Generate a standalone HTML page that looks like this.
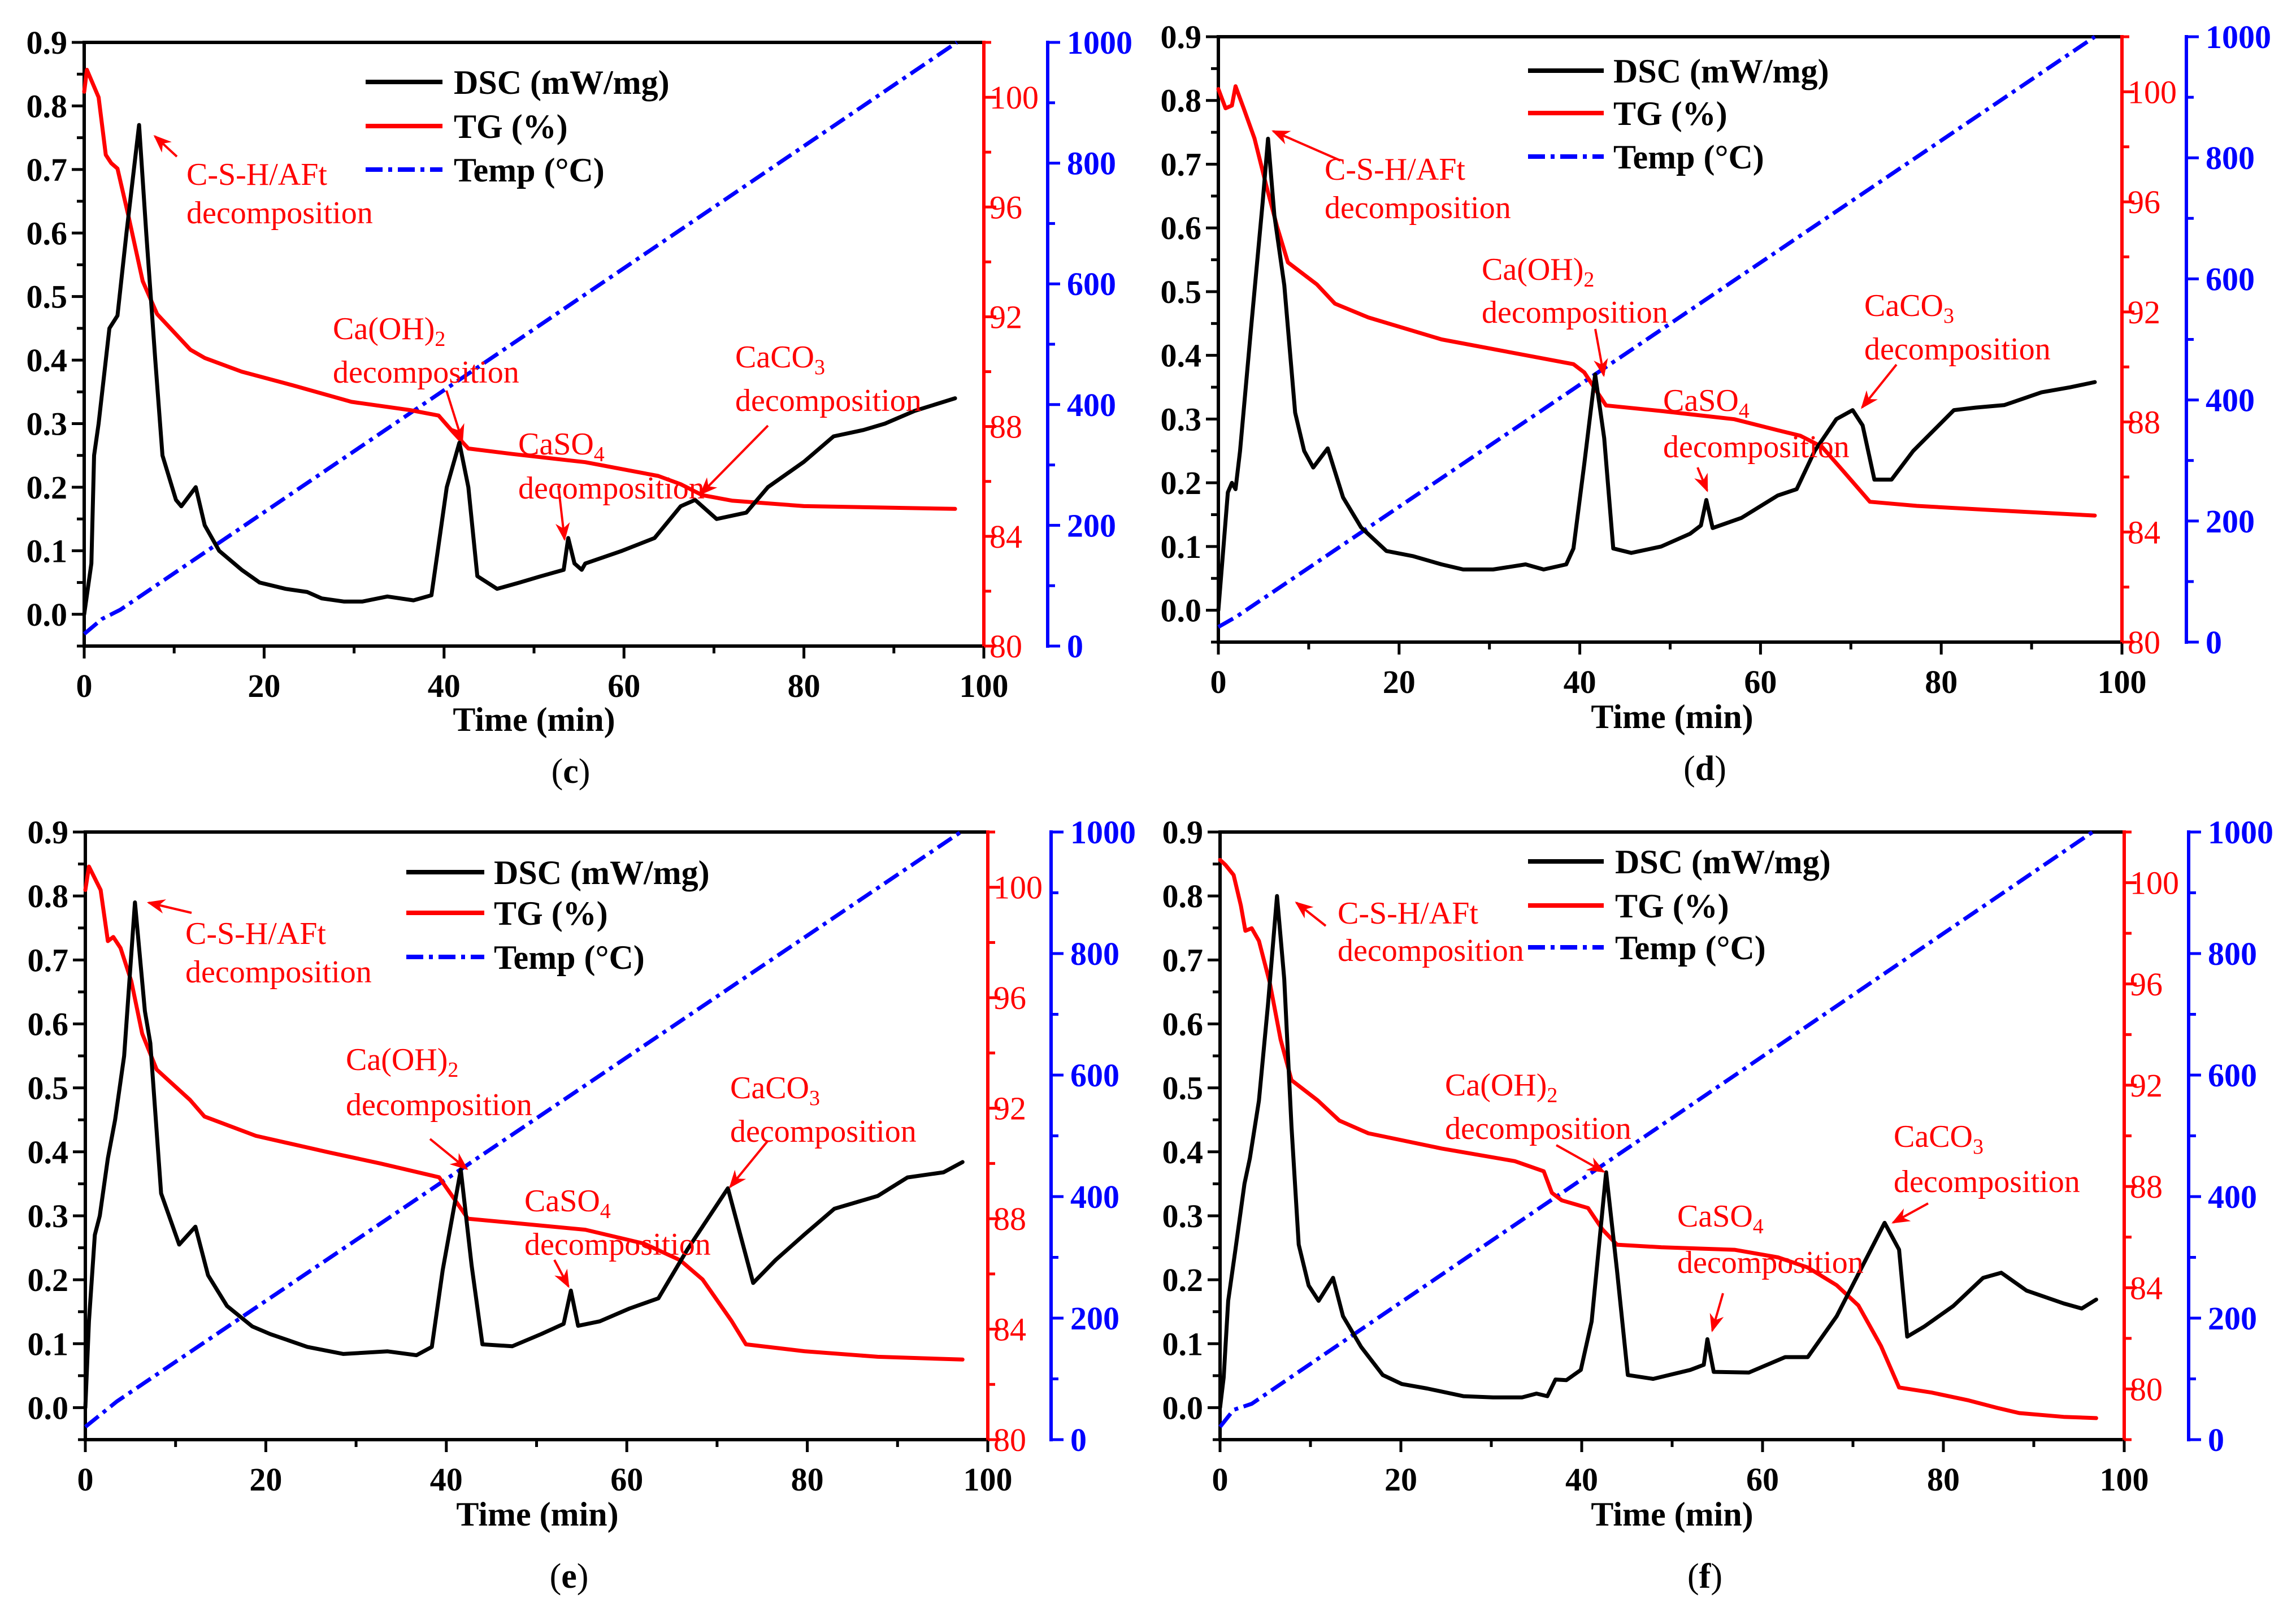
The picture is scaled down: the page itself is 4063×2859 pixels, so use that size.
<!DOCTYPE html>
<html><head><meta charset="utf-8"><title>DSC-TG panels</title>
<style>
html,body{margin:0;padding:0;background:#fff;}
svg{display:block;}
text{font-family:"Liberation Serif",serif;}
</style></head>
<body>
<svg id="fig" width="4063" height="2859" viewBox="0 0 4063 2859" xmlns="http://www.w3.org/2000/svg">
<rect x="0" y="0" width="4063" height="2859" fill="#fff"/>
</svg>
<script>
// ---- Panel (c) data ----
const cTime = [0,0.8,1.1,1.6,2.8,3.7,4.7,6.1,6.9,7.9,8.7,10.2,10.8,12.4,13.4,15.0,17.5,19.5,22.4,24.8,26.4,28.9,30.9,33.7,36.6,38.6,39.3,40.3,41.7,42.7,43.7,45.9,48.4,50.8,53.3,53.8,54.5,55.3,55.7,59.8,63.4,66.3,67.9,70.3,73.6,76.0,80.0,83.3,86.6,89.0,92.3,96.8];
const cDSC = [0,0.08,0.25,0.3,0.45,0.47,0.6,0.77,0.6,0.4,0.25,0.18,0.17,0.2,0.14,0.1,0.07,0.05,0.04,0.035,0.025,0.02,0.02,0.028,0.022,0.03,0.1,0.2,0.27,0.2,0.06,0.04,0.05,0.06,0.07,0.12,0.08,0.07,0.08,0.1,0.12,0.17,0.18,0.15,0.16,0.2,0.24,0.28,0.29,0.3,0.32,0.34];
const cTGTime = [0,0.3,1.6,2.4,3.0,3.7,4.9,6.5,8.1,11.8,13.4,17.5,23.2,29.7,36.2,39.4,41.0,42.7,47.6,55.7,63.8,66.3,68.7,72.0,80.0,96.8];
const cTG = [100.2,101.0,100.0,97.9,97.6,97.4,95.7,93.3,92.1,90.8,90.5,90.0,89.5,88.9,88.6,88.4,87.8,87.2,87.0,86.7,86.2,85.9,85.5,85.3,85.1,85.0];
const cTempTime = [0,2,4,97];
const cTemp = [20,45,60,1000];

// ---- Panel (d) data ----
const dTime = [0,0.4,1.05,1.5,1.9,2.4,3.6,4.9,5.5,6.2,7.3,8.5,9.5,10.5,12.1,13.8,15.8,18.6,21.5,24.7,27.1,30.4,34,36,38.5,39.3,40.5,41.7,42.7,43.7,45.7,49,52.2,53.4,54,54.7,57.9,61.9,64,66,68.4,70.2,71.3,72.6,74.5,76.9,81.4,83.8,87,91.1,94.3,97];
const dDSC = [0,0.07,0.185,0.2,0.19,0.25,0.44,0.64,0.74,0.62,0.51,0.31,0.25,0.224,0.254,0.177,0.13,0.093,0.085,0.072,0.064,0.064,0.072,0.064,0.072,0.097,0.23,0.37,0.27,0.097,0.09,0.1,0.12,0.133,0.173,0.129,0.145,0.18,0.19,0.25,0.3,0.314,0.29,0.205,0.205,0.25,0.314,0.318,0.322,0.342,0.35,0.358];
const dTGTime = [0,0.8,1.5,1.9,2.8,4,5.3,6.5,7.7,10.9,12.9,16.6,24.7,32.8,39.3,40.5,42.1,42.9,49,57.1,61.9,64.4,66.8,69.2,72.1,77.3,85.4,97];
const dTG = [100.1,99.4,99.5,100.2,99.4,98.3,96.6,95.1,93.8,93.0,92.3,91.8,91.0,90.5,90.1,89.8,89.0,88.6,88.4,88.1,87.7,87.5,87.1,86.2,85.1,84.95,84.8,84.6];
const dTempTime = [0,2,97];
const dTemp = [25,42,1000];

// ---- Panel (e) data ----
const eTime = [0,0.4,1.05,1.6,2.5,3.3,4.3,5.5,6.6,7.2,8.4,10.4,12.2,13.6,15.7,18.5,20.5,24.6,28.6,33.5,36.7,38.4,39.6,41.6,42.8,44,47.3,50.5,53,53.8,54.6,57,60.3,63.5,66.7,71.2,74,76.5,79.7,83,87.8,91.1,95.1,97.2];
const eDSC = [0,0.135,0.27,0.3,0.39,0.45,0.55,0.79,0.62,0.57,0.335,0.255,0.283,0.207,0.159,0.127,0.115,0.095,0.084,0.088,0.082,0.095,0.215,0.372,0.223,0.099,0.096,0.115,0.131,0.183,0.128,0.135,0.155,0.171,0.247,0.343,0.195,0.231,0.271,0.311,0.331,0.36,0.368,0.384];
const eTGTime = [0,0.4,1.7,2.5,3.1,3.9,5.1,6.3,7.9,11.6,13.2,18.9,27,32.7,39.2,40.8,42.4,47.3,55.4,61.9,65.9,68.4,71.6,73.2,79.7,87.8,97.2];
const eTG = [99.9,100.75,99.9,98.05,98.2,97.8,96.6,94.7,93.4,92.3,91.7,91.0,90.4,90.0,89.5,88.75,88.0,87.85,87.6,87.1,86.5,85.8,84.3,83.45,83.2,83.0,82.9];
const eTempTime = [0,3.5,97];
const eTemp = [21,63,1000];

// ---- Panel (f) data ----
const fTime = [0,0.4,0.9,1.7,2.7,3.3,4.3,5.3,6.3,7.1,7.9,8.7,9.8,10.9,12.5,13.6,15.6,18,20.1,22.9,26.9,30.2,33.4,35,36.2,37.1,38.3,39.9,41.1,42.7,43.9,45.1,47.9,52,53.5,53.9,54.6,58.5,62.5,65,68.2,71.4,73.5,75.1,76,77.9,81.1,84.4,86.4,89.2,93.3,95.3,96.9];
const fDSC = [0,0.047,0.167,0.247,0.35,0.39,0.48,0.63,0.8,0.67,0.44,0.255,0.191,0.167,0.203,0.143,0.095,0.051,0.037,0.03,0.018,0.016,0.016,0.022,0.018,0.044,0.043,0.059,0.135,0.368,0.215,0.051,0.045,0.059,0.067,0.107,0.056,0.055,0.079,0.079,0.143,0.231,0.289,0.247,0.111,0.127,0.159,0.203,0.211,0.183,0.163,0.155,0.169];
const fTGTime = [0,0.6,1.5,2.3,2.8,3.5,4.3,5.5,6.7,7.9,10.8,13.2,16.4,24.5,32.6,35.8,36.7,37.8,40.7,42.3,43.9,48.8,56.9,61.7,65,68.2,70.6,73.1,75.1,78.7,82.8,86,88.4,93.3,96.9];
const fTG = [100.9,100.7,100.3,99.1,98.1,98.2,97.7,96.05,93.8,92.2,91.4,90.6,90.1,89.5,89.0,88.6,87.75,87.45,87.15,86.3,85.7,85.6,85.5,85.2,84.8,84.1,83.3,81.7,80.06,79.86,79.55,79.25,79.05,78.9,78.85];
const fTempTime = [0,1.5,3.5,96.5];
const fTemp = [21,49,59,1000];

// ---- Axis tick arrays ----
const xTicks = [0,20,40,60,80,100];
const dscTicks = [0.0,0.1,0.2,0.3,0.4,0.5,0.6,0.7,0.8,0.9];
const tgTicks = [80,84,88,92,96,100];
const tempTicks = [0,200,400,600,800,1000];
const legendLabels = ["DSC (mW/mg)","TG (%)","Temp (°C)"];

const NS = "http://www.w3.org/2000/svg";
const svg = document.getElementById('fig');
function mk(tag, attrs, parent){
  const e = document.createElementNS(NS, tag);
  for (const k in attrs) e.setAttribute(k, attrs[k]);
  (parent||svg).appendChild(e);
  return e;
}

const panels = [
 {id:'c', L:149,R:1741,T:75,B:1143, blue:1854, tgMin:80, tgT:cTGTime, tg:cTG, t:cTime, dsc:cDSC, tt:cTempTime, temp:cTemp,
  timeX:945, timeY:1293, labX:1010, labY:1385, leg:{x1:647,x2:783,ys:[145,223,300],tx:803},
  ann:[
   {x:330,y:[327,395],lines:['C-S-H/AFt','decomposition'],a:[313,277,274,241]},
   {x:589,y:[600,677],lines:['Ca(OH)|2','decomposition'],a:[790,691,818,780]},
   {x:917,y:[804,882],lines:['CaSO|4','decomposition'],a:[988,859,999,954]},
   {x:1301,y:[650,727],lines:['CaCO|3','decomposition'],a:[1359,753,1240,874]}]},
 {id:'d', L:2156,R:3755,T:65,B:1136, blue:3869, tgMin:80, tgT:dTGTime, tg:dTG, t:dTime, dsc:dDSC, tt:dTempTime, temp:dTemp,
  timeX:2959, timeY:1288, labX:3017, labY:1380, leg:{x1:2704,x2:2838,ys:[125,200,277],tx:2855},
  ann:[
   {x:2344,y:[318,386],lines:['C-S-H/AFt','decomposition'],a:[2372,284,2253,232]},
   {x:2622,y:[495,571],lines:['Ca(OH)|2','decomposition'],a:[2823,582,2838,664]},
   {x:2943,y:[727,809],lines:['CaSO|4','decomposition'],a:[3004,827,3021,868]},
   {x:3299,y:[559,636],lines:['CaCO|3','decomposition'],a:[3356,645,3295,721]}]},
 {id:'e', L:151,R:1748,T:1472,B:2547, blue:1860, tgMin:80, tgT:eTGTime, tg:eTG, t:eTime, dsc:eDSC, tt:eTempTime, temp:eTemp,
  timeX:951, timeY:2699, labX:1007, labY:2809, leg:{x1:719,x2:857,ys:[1543,1615,1693],tx:874},
  ann:[
   {x:328,y:[1670,1738],lines:['C-S-H/AFt','decomposition'],a:[339,1615,263,1597]},
   {x:612,y:[1893,1973],lines:['Ca(OH)|2','decomposition'],a:[761,2015,826,2068]},
   {x:928,y:[2143,2220],lines:['CaSO|4','decomposition'],a:[981,2229,1006,2276]},
   {x:1292,y:[1943,2020],lines:['CaCO|3','decomposition'],a:[1359,2018,1292,2100]}]},
 {id:'f', L:2159,R:3759,T:1472,B:2547, blue:3873, tgMin:78, tgT:fTGTime, tg:fTG, t:fTime, dsc:fDSC, tt:fTempTime, temp:fTemp,
  timeX:2959, timeY:2699, labX:3017, labY:2809, leg:{x1:2704,x2:2838,ys:[1524,1602,1676],tx:2858},
  ann:[
   {x:2367,y:[1634,1700],lines:['C-S-H/AFt','decomposition'],a:[2346,1638,2294,1597]},
   {x:2557,y:[1938,2015],lines:['Ca(OH)|2','decomposition'],a:[2754,2026,2838,2073]},
   {x:2968,y:[2170,2252],lines:['CaSO|4','decomposition'],a:[3049,2288,3030,2354]},
   {x:3351,y:[2029,2109],lines:['CaCO|3','decomposition'],a:[3412,2129,3350,2163]}]}
];

const defs = mk('defs',{});
const mrk = mk('marker',{id:'arrowhead',markerWidth:'32',markerHeight:'26',refX:'9',refY:'4',orient:'auto',markerUnits:'userSpaceOnUse',viewBox:'0 0 10 8'},defs);
mk('path',{d:'M0,0 L10,4 L0,8 L3,4 Z',fill:'#ff0000'},mrk);

const DASH = '30 10 7 10';

panels.forEach(p=>{
  const g = mk('g',{});
  
  
  const xs = v => p.L + (v/100)*(p.R-p.L);
  const ys = v => p.B - (v+0.05)/0.95*(p.B-p.T);
  const ts = v => p.B - (v-p.tgMin)/(102-p.tgMin)*(p.B-p.T);
  const ks = v => p.B - v/1000*(p.B-p.T);

  const fr = mk('path',{d:`M${p.L},${p.B} L${p.L},${p.T} L${p.R},${p.T}`,fill:'none',stroke:'#000','stroke-width':6},g);
   
  const xa = mk('line',{x1:p.L-3,y1:p.B,x2:p.R,y2:p.B,stroke:'#000','stroke-width':6},g);
   
  const ra = mk('line',{x1:p.R,y1:p.T-3,x2:p.R,y2:p.B+3,stroke:'#ff0000','stroke-width':6},g);
   
  const ba = mk('line',{x1:p.blue,y1:p.T-3,x2:p.blue,y2:p.B+3,stroke:'#0000ff','stroke-width':6},g);
   

  for(let v=0; v<=100; v+=10){
    const maj = v%20===0;
    mk('line',{x1:xs(v),y1:p.B,x2:xs(v),y2:p.B+(maj?22:13),stroke:'#000','stroke-width':5},g);
  }
  xTicks.forEach(v=>{
    const t = mk('text',{x:xs(v),y:p.B+90,'font-size':58,'font-weight':'bold','text-anchor':'middle',fill:'#000'},g);
    t.textContent = v;
     
  });
  for(let i=0;i<=19;i++){
    const v = -0.05 + i*0.05;
    const maj = i%2===1;
    mk('line',{x1:p.L,y1:ys(v),x2:p.L-(maj?22:13),y2:ys(v),stroke:'#000','stroke-width':5},g);
  }
  dscTicks.forEach(v=>{
    const t = mk('text',{x:p.L-30,y:ys(v)+20,'font-size':58,'font-weight':'bold','text-anchor':'end',fill:'#000'},g);
    t.textContent = v.toFixed(1);
     
  });
  for(let v=p.tgMin; v<=102; v+=2){
    const maj = (v-80)%4===0;
    mk('line',{x1:p.R,y1:ts(v),x2:p.R+(maj?22:13),y2:ts(v),stroke:'#ff0000','stroke-width':5},g);
  }
  tgTicks.forEach(v=>{
    const t = mk('text',{x:p.R+10,y:ts(v)+20,'font-size':58,'text-anchor':'start',fill:'#ff0000'},g);
    t.textContent = v;
     
  });
  for(let v=0; v<=1000; v+=100){
    const maj = v%200===0;
    mk('line',{x1:p.blue,y1:ks(v),x2:p.blue+(maj?22:13),y2:ks(v),stroke:'#0000ff','stroke-width':5},g);
  }
  tempTicks.forEach(v=>{
    const t = mk('text',{x:p.blue+34,y:ks(v)+20,'font-size':58,'font-weight':'bold','text-anchor':'start',fill:'#0000ff'},g);
    t.textContent = v;
     
  });

  const pts = (xa,ya,f)=>xa.map((x,i)=>xs(x).toFixed(1)+','+f(ya[i]).toFixed(1)).join(' ');
  const tl = mk('polyline',{points:pts(p.tt,p.temp,ks),fill:'none',stroke:'#0000ff','stroke-width':7,'stroke-dasharray':DASH},g);
   
  const tgl = mk('polyline',{points:pts(p.tgT,p.tg,ts),fill:'none',stroke:'#ff0000','stroke-width':7,'stroke-linejoin':'round','stroke-linecap':'round'},g);
   
  const dl = mk('polyline',{points:pts(p.t,p.dsc,ys),fill:'none',stroke:'#000','stroke-width':7,'stroke-linejoin':'round','stroke-linecap':'round'},g);
   

  const L = p.leg;
  const styles = [{s:'#000',d:null},{s:'#ff0000',d:null},{s:'#0000ff',d:DASH}];
  legendLabels.forEach((lab,i)=>{
    const ln = mk('line',{x1:L.x1,y1:L.ys[i],x2:L.x2,y2:L.ys[i],stroke:styles[i].s,'stroke-width':8},g);
    if(styles[i].d) ln.setAttribute('stroke-dasharray',styles[i].d);
     
    const t = mk('text',{x:L.tx,y:L.ys[i]+21,'font-size':60,'font-weight':'bold',fill:'#000'},g);
    t.textContent = lab;
     
  });

  p.ann.forEach(a=>{
    a.lines.forEach((ln,i)=>{
      const t = mk('text',{x:a.x,y:a.y[i],'font-size':56,fill:'#ff0000'},g);
       
      if(ln.indexOf('|')>=0){
        const [base,sub] = ln.split('|');
        t.appendChild(document.createTextNode(base));
        const ts2 = mk('tspan',{'font-size':38,dy:12},t);
        ts2.textContent = sub;
      } else t.textContent = ln;
    });
    const ar = mk('line',{x1:a.a[0],y1:a.a[1],x2:a.a[2],y2:a.a[3],stroke:'#ff0000','stroke-width':4,'marker-end':'url(#arrowhead)'},g);
     
  });

  const tt = mk('text',{x:p.timeX,y:p.timeY,'font-size':60,'font-weight':'bold','text-anchor':'middle',fill:'#000'},g);
  tt.textContent = 'Time (min)';
   
  const pl = mk('text',{x:p.labX,y:p.labY,'font-size':62,'text-anchor':'middle',fill:'#000'},g);
   
  pl.appendChild(document.createTextNode('('));
  const b = mk('tspan',{'font-weight':'bold'},pl); b.textContent = p.id;
  pl.appendChild(document.createTextNode(')'));
});
</script>
</body></html>
